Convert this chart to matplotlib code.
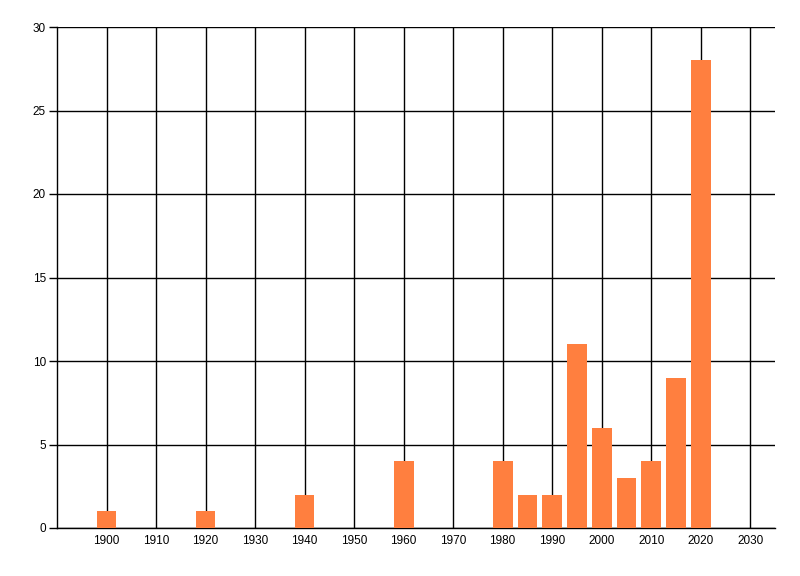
import matplotlib
matplotlib.use("Agg")
import matplotlib.pyplot as plt

years = [1900, 1920, 1940, 1960, 1980, 1985, 1990, 1995, 2000, 2005, 2010, 2015, 2020]
counts = [1, 1, 2, 4, 4, 2, 2, 11, 6, 3, 4, 9, 28]
x_ticks = list(range(1900, 2031, 10))
y_ticks = [0, 5, 10, 15, 20, 25, 30]

plt.rcParams['font.family'] = ['Liberation Sans', 'DejaVu Sans']
fig = plt.figure(figsize=(8, 5.76), dpi=100)
ax = fig.add_axes([57/800, 1-528/576, (775-57)/800, (528-27)/576])

ax.bar(years, counts, width=4.0, color='#FF7F3F', zorder=3)
ax.set_xlim(1890, 2035)
ax.set_ylim(0, 30)
ax.set_xticks(x_ticks)
ax.set_yticks(y_ticks)
ax.grid(True, color='black', linewidth=1.0, zorder=1)
ax.set_axisbelow(True)
for s in ['top', 'right']:
    ax.spines[s].set_visible(False)
for s in ['left', 'bottom']:
    ax.spines[s].set_color('black')
    ax.spines[s].set_linewidth(1.0)
ax.tick_params(axis='x', length=0, pad=5, labelsize=8.5)
ax.tick_params(axis='y', length=6, width=1.0, pad=2, labelsize=8.5)
fig.savefig('out.png', dpi=100)
